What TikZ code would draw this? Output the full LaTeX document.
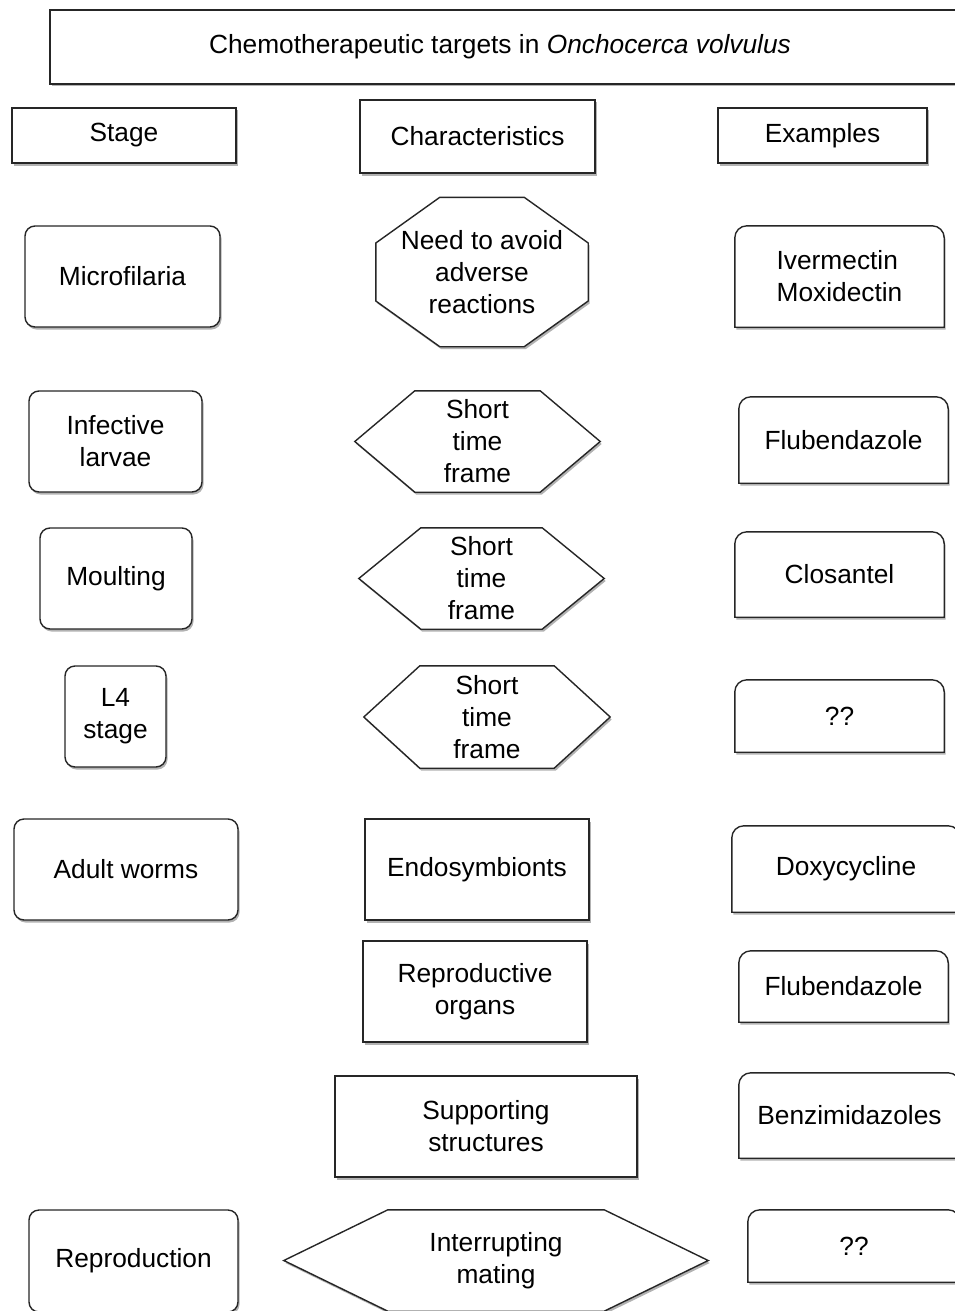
\documentclass[tikz,border=0pt]{standalone}
\usepackage{fontspec}
\setmainfont{Liberation Sans}
\usetikzlibrary{positioning,shadows,backgrounds}

\begin{document}
\begin{tikzpicture}[x=1pt,y=-1pt,font=\fontsize{26.3}{32}\selectfont,
  softshadow/.style={drop shadow={shadow xshift=1.5pt,shadow yshift=-2.5pt,opacity=0.3,fill=black}},
  headbox/.style={draw=black!85,line width=1.4pt,fill=white,softshadow,inner sep=0pt,align=center},
  stagebox/.style={headbox,rounded corners=10pt},
  txt/.style={inner sep=0pt,align=center},
  outline/.style={draw=black!85,line width=1.4pt,fill=white,softshadow}]
  \useasboundingbox (0,0) rectangle (954,1311);

  % ===== title and column heads =====
  \node[headbox,minimum width=920pt,minimum height=74pt] (titlebox) at (510,47) {};
  \node[txt] (title) at (500,47) {Chemotherapeutic targets in \textit{Onchocerca volvulus}};
  \node[headbox,minimum width=224pt,minimum height=55pt] (stage) at (124,135.5) {Stage};
  \node[headbox,minimum width=235pt,minimum height=73pt] (charac) at (477.5,136.5) {Characteristics};
  \node[headbox,minimum width=209pt,minimum height=55pt] (examples) at (822.5,135.5) {Examples};

  % ===== LEFT column: stages =====
  \node[stagebox,minimum width=195pt,minimum height=101pt] (micro) at (122.5,276.5) {Microfilaria};
  \node[stagebox,minimum width=173pt,minimum height=101pt] (larvae) at (115.5,441.5) {Infective\\larvae};
  \node[stagebox,minimum width=152pt,minimum height=101pt] (moult) at (116,578.5) {Moulting};
  \node[stagebox,minimum width=101pt,minimum height=101pt] (lfour) at (115.5,716.5) {L4\\stage};
  \node[stagebox,minimum width=224pt,minimum height=101pt] (adult) at (126,869.5) {Adult worms};
  \node[stagebox,minimum width=209pt,minimum height=102pt] (repro) at (133.5,1261) {Reproduction};

  % ===== MIDDLE column: characteristics =====
  \node[txt,minimum width=212pt,minimum height=149pt] (avoid) at (482,272) {Need to avoid\\adverse\\reactions};
  \node[txt,minimum width=245pt,minimum height=101pt] (shorta) at (477.5,441.5) {Short\\time\\frame};
  \node[txt,minimum width=245pt,minimum height=101pt] (shortb) at (481.5,578.5) {Short\\time\\frame};
  \node[txt,minimum width=246pt,minimum height=102pt] (shortc) at (487,717) {Short\\time\\frame};
  \node[headbox,minimum width=224pt,minimum height=101pt] (endo) at (477,869.5) {Endosymbionts};
  \node[headbox,minimum width=224pt,minimum height=101pt] (organs) at (475,991.5) {Reproductive\\organs};
  \node[headbox,minimum width=302pt,minimum height=101pt] (support) at (486,1126.5) {Supporting\\structures};
  \node[txt,minimum width=424pt,minimum height=101pt] (mating) at (496,1260.5) {Interrupting\\mating};

  % ===== RIGHT column: examples =====
  \node[txt,align=left,minimum width=209pt,minimum height=101pt] (ivm) at (839.5,276.5) {Ivermectin\\Moxidectin};
  \node[txt,minimum width=209pt,minimum height=86pt] (flua) at (843.5,440) {Flubendazole};
  \node[txt,minimum width=209pt,minimum height=85pt] (clos) at (839.5,574.5) {Closantel};
  \node[txt,minimum width=209pt,minimum height=72pt] (qqa) at (839.5,716) {??};
  \node[txt,minimum width=228pt,minimum height=86pt] (doxy) at (846,869) {Doxycycline};
  \node[txt,minimum width=209pt,minimum height=71pt] (flub) at (843.5,986.5) {Flubendazole};
  \node[txt,minimum width=221pt,minimum height=85pt] (benz) at (849.5,1115.5) {Benzimidazoles};
  \node[txt,minimum width=212pt,minimum height=72pt] (qqb) at (854,1246) {??};

  % ===== outlines behind the texts =====
  \begin{scope}[on background layer]
    \draw[outline] ([xshift=64pt]avoid.north west) -- ([xshift=-64pt]avoid.north east)
      -- ([yshift=29pt]avoid.east) -- ([yshift=-29pt]avoid.east)
      -- ([xshift=-64pt]avoid.south east) -- ([xshift=64pt]avoid.south west)
      -- ([yshift=-29pt]avoid.west) -- ([yshift=29pt]avoid.west) -- cycle;
    \foreach \n/\d in {shorta/60,shortb/62,shortc/56,mating/104}
      \draw[outline] (\n.west) -- ([xshift=\d pt]\n.north west) -- ([xshift=-\d pt]\n.north east)
        -- (\n.east) -- ([xshift=-\d pt]\n.south east) -- ([xshift=\d pt]\n.south west) -- cycle;
    \foreach \n in {ivm,flua,clos,qqa,doxy,flub,benz,qqb}
      \draw[outline] (\n.south west) -- ([yshift=-12pt]\n.north west)
        arc[start angle=180,end angle=90,radius=12pt] -- ([xshift=-12pt]\n.north east)
        arc[start angle=90,end angle=0,radius=12pt] -- (\n.south east) -- cycle;
  \end{scope}
\end{tikzpicture}
\end{document}
